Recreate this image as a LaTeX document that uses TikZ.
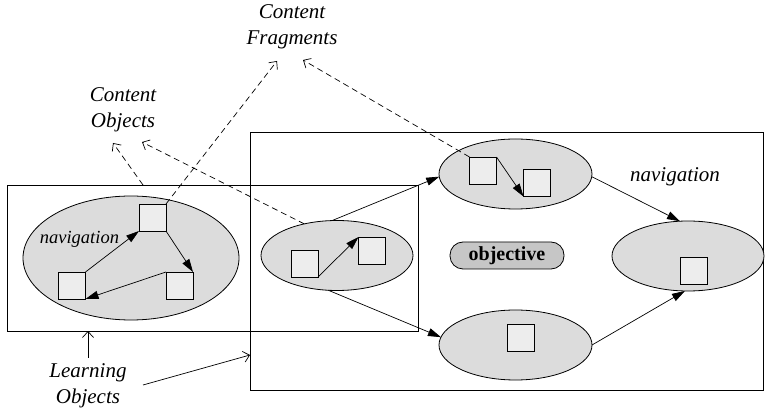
\documentclass[tikz,border=0pt]{standalone}
\usepackage{fontspec}
\setmainfont{Liberation Serif}
\usetikzlibrary{arrows.meta,shapes.geometric}
\definecolor{ellfill}{HTML}{DCDCDC}
\definecolor{sqfill}{HTML}{EDEDED}
\definecolor{objfill}{HTML}{C6C6C6}
\begin{document}
\begin{tikzpicture}[x=1pt,y=-1pt,
  every node/.style={inner sep=0pt,outer sep=0pt},
  ell/.style={ellipse,draw,fill=ellfill,line width=0.8pt},
  sq/.style={rectangle,draw,fill=sqfill,line width=0.9pt,minimum width=27pt,minimum height=27pt},
  frame/.style={rectangle,draw,line width=0.9pt},
  nav/.style={line width=0.7pt,-{Triangle[length=13pt,width=8pt]}},
  dsharrow/.style={line width=0.7pt,dash pattern=on 6pt off 4pt,-{Straight Barb[length=6pt,width=11pt,line width=0.7pt]}},
  loarrow/.style={line width=0.7pt,-{Straight Barb[length=6pt,width=11pt,line width=0.7pt]}},
  lbl/.style={font=\fontsize{21}{26}\selectfont\itshape,align=center},
]
\useasboundingbox (0,0) rectangle (768,411);
% frames
\node[frame,minimum width=411pt,minimum height=146pt] (LB) at (212.5,258) {};
\node[frame,minimum width=513pt,minimum height=258pt] (BB) at (506.5,261) {};
% ellipses
\node[ell,minimum width=216pt,minimum height=124pt] (A) at (131,258) {};
\node[ell,minimum width=152pt,minimum height=70pt] (M) at (337,255.5) {};
\node[ell,minimum width=153pt,minimum height=70pt] (C) at (515.5,174) {};
\node[ell,minimum width=153pt,minimum height=70pt] (D) at (515.5,345) {};
\node[ell,minimum width=152pt,minimum height=70pt] (E) at (688,256) {};
% squares
\node[sq] (a1) at (152.5,217.5) {};
\node[sq] (a2) at (72,285.5) {};
\node[sq] (a3) at (179.5,285.5) {};
\node[sq] (b1) at (304.5,263.5) {};
\node[sq] (b2) at (372,250.5) {};
\node[sq] (c1) at (483,170.5) {};
\node[sq] (c2) at (537,183) {};
\node[sq] (d1) at (521,338) {};
\node[sq] (e1) at (693.5,270.5) {};
% objective
\node[rectangle,rounded corners=13pt,draw,fill=objfill,line width=0.8pt,minimum width=114pt,minimum height=27pt,font=\fontsize{20}{24}\selectfont\bfseries] (obj) at (507,255.5) {objective};
% labels
\node[font=\fontsize{18.5}{22}\selectfont\itshape,anchor=east] (nav1) at (119,239) {navigation};
\node[lbl] (nav2) at (675,177) {navigation};
\node[lbl] (co) at (123,110) {Content\\Objects};
\node[lbl] (cf) at (292,27) {Content\\Fragments};
\node[lbl] (lo) at (88,386) {Learning\\Objects};
% navigation arrows
\draw[nav] (a2.north east) -- (a1.south west);
\draw[nav] (a1.south east) -- (a3.north east);
\draw[nav] (a3.north west) -- (a2.south east);
\draw[nav] (b1.south east) -- (b2.north west);
\draw[nav] (c1.north east) -- (c2.south west);
\draw[nav] (M.98) -- (C.182);
\draw[nav] (M.256) -- (D.174);
\draw[nav] (C.358) -- (E.103);
\draw[nav] (D.east) -- (E.265);
% dashed
\coordinate (p1) at (143,185);
\coordinate (co1) at (113,143);
\coordinate (co2) at (142,142);
\coordinate (cf1) at (277,61);
\coordinate (cf2) at (303,60);
\draw[dsharrow] (p1) -- (co1);
\draw[dsharrow] (M.136) -- (co2);
\draw[dsharrow] (a1.north east) -- (cf1);
\draw[dsharrow] (c1.north west) -- (cf2);
% learning objects
\coordinate (l1) at (88,358);
\coordinate (l2) at (143,385);
\draw[loarrow] (l1) -- (l1 |- LB.south);
\draw[loarrow] (l2) -- (BB.west |- 0,355);
\end{tikzpicture}
\end{document}
